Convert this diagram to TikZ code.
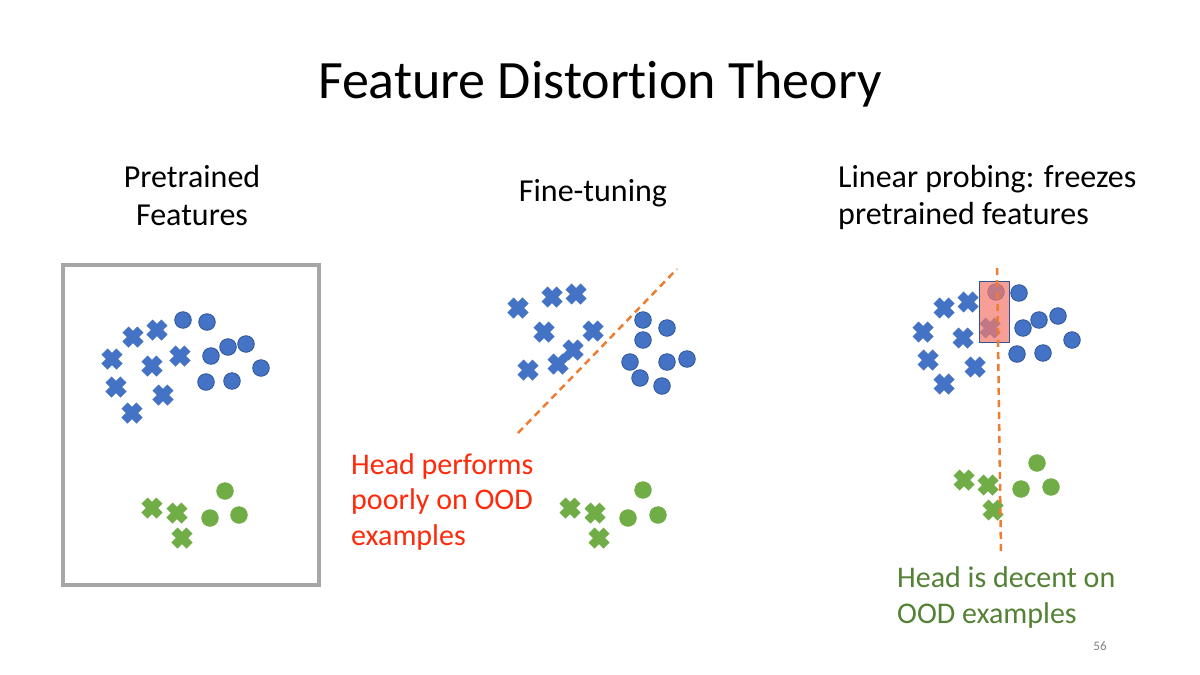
\documentclass[tikz,border=0pt]{standalone}
\usepackage{fontspec}
\setmainfont{Carlito}[Ligatures=NoCommon]
\definecolor{bluem}{HTML}{4472C4}
\definecolor{blueo}{HTML}{2F5597}
\definecolor{greenm}{HTML}{70AD47}
\definecolor{orangel}{HTML}{ED7D31}
\definecolor{redt}{HTML}{FF2A0A}
\definecolor{greent}{HTML}{548235}
\definecolor{boxgray}{HTML}{A6A6A6}
\definecolor{pinkbox}{HTML}{F47A6E}
\tikzset{
  xmk/.pic={\draw[line width=8.5pt,pic actions] (-7.5,-7.5)--(7.5,7.5) (-7.5,7.5)--(7.5,-7.5);},
  omk/.pic={\draw[line width=0.8pt,pic actions] (0,0) circle[radius=8.3];},
  bx/.style={draw=bluem},
  bo/.style={fill=bluem,draw=blueo},
  gx/.style={draw=greenm},
  go/.style={fill=greenm,draw=greenm},
  lbl/.style={font=\fontsize{30}{36}\selectfont,anchor=base,inner sep=0pt},
  hd/.style={font=\fontsize{32}{38}\selectfont,anchor=base,inner sep=0pt},
  sep/.style={draw=orangel,line width=2.5pt,dash pattern=on 7pt off 5pt},
}
\begin{document}
\begin{tikzpicture}[x=1pt,y=-1pt]
\useasboundingbox[fill=white] (0,0) rectangle (1200,675);
% title
\node[font=\fontsize{54}{60}\selectfont,anchor=base,inner sep=0pt] (title) at (600,98) {Feature Distortion Theory};
% headings
\node[hd] (h1a) at (192,187) {Pretrained};
\node[hd] (h1b) at (192,225) {Features};
\node[hd] (h2) at (593,201) {Fine-tuning};
\node[hd,anchor=base west] (h3a) at (838,187) {Linear probing: freezes};
\node[hd,anchor=base west] (h3b) at (838,224) {pretrained features};
% panel 1 box
\draw[boxgray,line width=4pt] (63,265) rectangle (319,585);
% panel 1 markers
\foreach \p in {(133,337),(157,330),(112,359),(152,366),(180,356),(116,387),(163,395),(132,413)} \pic[bx] at \p {xmk};
\foreach \p in {(183,320),(207,322),(211,356),(228,347),(246,344),(261,368),(206,382),(232,381)} \pic[bo] at \p {omk};
\foreach \p in {(152,508),(177,513),(182,538)} \pic[gx] at \p {xmk};
\foreach \p in {(225,491),(210,518),(239,515)} \pic[go] at \p {omk};
% panel 2
\coordinate (s2a) at (518,433);
\coordinate (s2b) at (677,269);
\draw[sep] (s2a) -- (s2b);
\foreach \p in {(518,308),(552,297),(576,294),(544,332),(593,331),(573,350),(558,364),(528,370)} \pic[bx] at \p {xmk};
\foreach \p in {(643,320),(667,328),(643,340),(630,362),(667,362),(687,359),(640,378),(662,386)} \pic[bo] at \p {omk};
\foreach \p in {(570,508),(595,513),(599,538)} \pic[gx] at \p {xmk};
\foreach \p in {(643,490),(628,518),(658,515)} \pic[go] at \p {omk};
\node[lbl,anchor=base west,text=redt] (r1) at (351,474) {Head performs};
\node[lbl,anchor=base west,text=redt] (r2) at (351,509) {poorly on OOD};
\node[lbl,anchor=base west,text=redt] (r3) at (351,545) {examples};
% panel 3
\foreach \p in {(944,308),(968,302),(923,332),(963,338),(990,328),(928,360),(975,367),(944,384)} \pic[bx] at \p {xmk};
\foreach \p in {(996,292),(1019,293),(1023,328),(1039,320),(1058,316),(1072,340),(1017,354),(1043,353)} \pic[bo] at \p {omk};
\foreach \p in {(964,480),(988,485),(993,510)} \pic[gx] at \p {xmk};
\foreach \p in {(1037,463),(1021,489),(1051,487)} \pic[go] at \p {omk};
\fill[pinkbox,opacity=0.72] (979,281) rectangle (1009,342);
\draw[blueo,line width=0.8pt] (979,281) rectangle (1009,342);
\coordinate (s3a) at (997,268);
\coordinate (s3b) at (1001,554);
\draw[sep] (s3a) -- (s3b);
\node[lbl,anchor=base west,text=greent] (g1) at (897,587) {Head is decent on};
\node[lbl,anchor=base west,text=greent] (g2) at (897,623) {OOD examples};
\node[font=\fontsize{13}{15}\selectfont,text=gray,anchor=base,inner sep=0pt] (pg) at (1100,650) {56};
\end{tikzpicture}
\end{document}
